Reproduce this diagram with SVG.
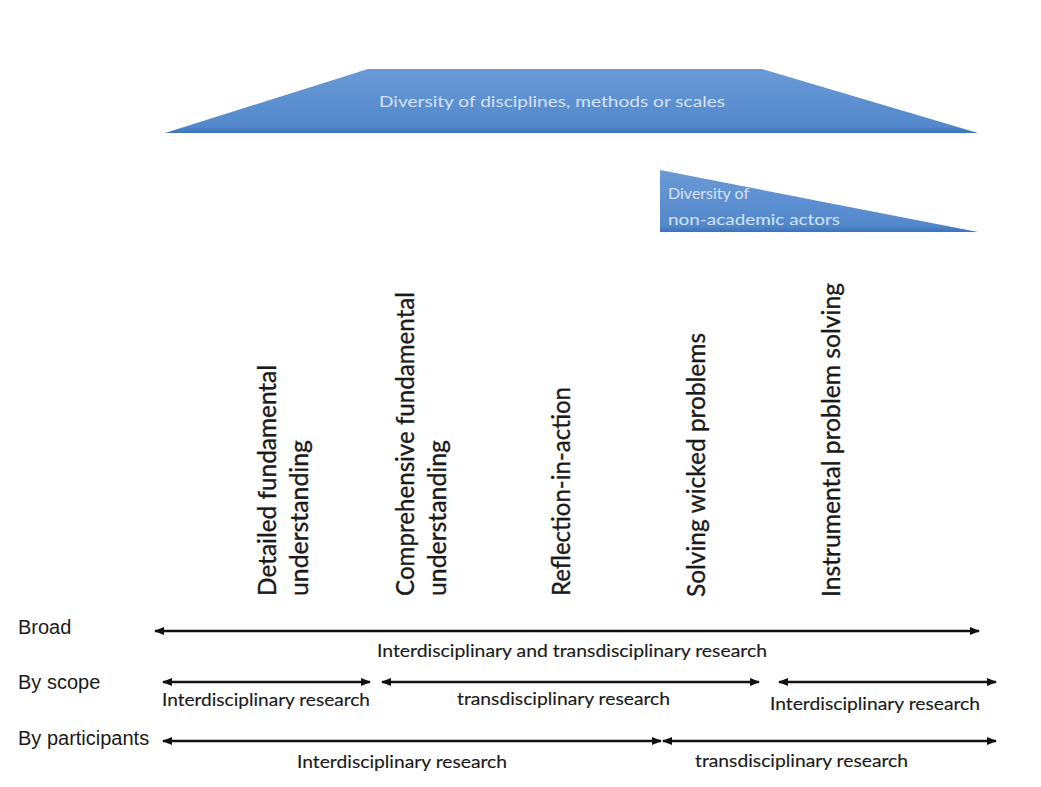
<svg xmlns="http://www.w3.org/2000/svg" width="1041" height="787" viewBox="0 0 1041 787">
<style>
.lbl{font-family:"Liberation Sans",Arial,sans-serif;font-size:20px;fill:#1a1a1a}
.cap{font-family:Lato,"Open Sans",sans-serif;font-size:18px;fill:#1a1a1a;stroke:#1a1a1a;stroke-width:0.15}
.vt{font-family:Lato,"Open Sans",sans-serif;font-size:25px;fill:#1a1a1a;stroke:#1a1a1a;stroke-width:0.35}
.wt{font-family:Lato,"Open Sans",sans-serif;fill:#d4e2f3}
.arr{stroke:#111;stroke-width:2.5;fill:none;marker-start:url(#ah);marker-end:url(#ah)}
</style>
<defs>
<linearGradient id="gb" x1="0" y1="0" x2="0" y2="1">
<stop offset="0" stop-color="#6a9ad6"/>
<stop offset="0.9" stop-color="#5288cb"/>
<stop offset="1" stop-color="#3b72ba"/>
</linearGradient>
<marker id="ah" viewBox="0 0 10 10" refX="9" refY="5" markerWidth="4" markerHeight="4" orient="auto-start-reverse" markerUnits="strokeWidth">
<path d="M0,1 L10,5 L0,9 Z" fill="#111"/>
</marker>
</defs>
<rect width="1041" height="787" fill="#fff"/>
<g id="disciplines">
<polygon points="165,133 368,69 762,69 978,133" fill="url(#gb)"/>
<text class="wt" x="552" y="107" font-size="16" text-anchor="middle" textLength="346" lengthAdjust="spacingAndGlyphs">Diversity of disciplines, methods or scales</text>
</g>
<g id="actors">
<polygon points="660,170 660,232 978,232" fill="url(#gb)"/>
<text class="wt" x="668" y="199" font-size="16">Diversity of</text>
<text class="wt" x="668" y="225" font-size="16" textLength="172" lengthAdjust="spacingAndGlyphs">non-academic actors</text>
</g>
<g id="col1">
<text class="vt" transform="translate(276,596) rotate(-90)" textLength="231" lengthAdjust="spacingAndGlyphs">Detailed fundamental</text>
<text class="vt" transform="translate(308,596) rotate(-90)" textLength="156" lengthAdjust="spacingAndGlyphs">understanding</text>
</g>
<g id="col2">
<text class="vt" transform="translate(414,596) rotate(-90)" textLength="304" lengthAdjust="spacingAndGlyphs">Comprehensive fundamental</text>
<text class="vt" transform="translate(446,596) rotate(-90)" textLength="156" lengthAdjust="spacingAndGlyphs">understanding</text>
</g>
<g id="col3">
<text class="vt" transform="translate(570,596) rotate(-90)" textLength="209" lengthAdjust="spacingAndGlyphs">Reflection-in-action</text>
</g>
<g id="col4">
<text class="vt" transform="translate(705,597) rotate(-90)" textLength="264" lengthAdjust="spacingAndGlyphs">Solving wicked problems</text>
</g>
<g id="col5">
<text class="vt" transform="translate(840,597) rotate(-90)" textLength="314" lengthAdjust="spacingAndGlyphs">Instrumental problem solving</text>
</g>
<g id="rowlabels">
<text class="lbl" x="18" y="634">Broad</text>
<text class="lbl" x="18" y="689">By scope</text>
<text class="lbl" x="18" y="745">By participants</text>
</g>
<g id="connectors">
<line class="arr" x1="155" y1="631" x2="979" y2="631"/>
<line class="arr" x1="163" y1="682" x2="370" y2="682"/>
<line class="arr" x1="382" y1="682" x2="759" y2="682"/>
<line class="arr" x1="779" y1="682" x2="996" y2="682"/>
<line class="arr" x1="163" y1="741" x2="661" y2="741"/>
<line class="arr" x1="663" y1="741" x2="996" y2="741"/>
</g>
<g id="captions">
<text class="cap" x="377" y="657" textLength="390" lengthAdjust="spacingAndGlyphs">Interdisciplinary and transdisciplinary research</text>
<text class="cap" x="162" y="706" textLength="208" lengthAdjust="spacingAndGlyphs">Interdisciplinary research</text>
<text class="cap" x="457" y="705" textLength="213" lengthAdjust="spacingAndGlyphs">transdisciplinary research</text>
<text class="cap" x="770" y="710" textLength="210" lengthAdjust="spacingAndGlyphs">Interdisciplinary research</text>
<text class="cap" x="297" y="768" textLength="210" lengthAdjust="spacingAndGlyphs">Interdisciplinary research</text>
<text class="cap" x="695" y="767" textLength="213" lengthAdjust="spacingAndGlyphs">transdisciplinary research</text>
</g>
</svg>
